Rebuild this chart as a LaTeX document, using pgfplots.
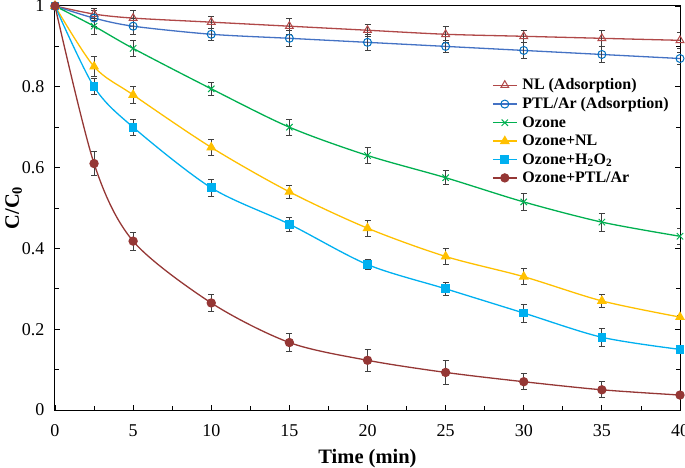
\documentclass[border=0pt]{standalone}
\usepackage{pgfplots}
\pgfplotsset{compat=1.18}
\usepackage{fontspec}
\setmainfont{Liberation Serif}
\definecolor{cNL}{HTML}{B04848}
\definecolor{cPTL}{HTML}{4472C4}
\definecolor{cPTLm}{HTML}{0070C0}
\definecolor{cOz}{HTML}{00B050}
\definecolor{cOzNL}{HTML}{FFC000}
\definecolor{cH2O2}{HTML}{00B0F0}
\definecolor{cOzPTL}{HTML}{953735}
\begin{document}
\begin{tikzpicture}
\begin{axis}[
  scale only axis, width=625pt, height=404pt,
  xmin=0, xmax=40, ymin=0, ymax=1,
  xtick={0,5,...,40}, ytick={0,0.2,0.4,0.6,0.8,1},
  minor x tick num=1, minor y tick num=1,
  tick align=inside, xtick pos=left, ytick pos=both,
  major tick length=5pt, minor tick length=4pt,
  tick style={black, line width=0.8pt},
  axis line style={black, line width=1pt},
  /pgf/number format/assume math mode=true,
  tick label style={font=\fontsize{18}{18}\selectfont},
  xticklabel style={yshift=-11pt},
  yticklabel style={xshift=-7pt},
  xlabel={\textbf{Time (min)}}, ylabel={\textbf{C/C\textsubscript{0}}},
  label style={font=\fontsize{20.5}{20.5}\selectfont},
  xlabel style={yshift=-6pt}, ylabel style={yshift=-7pt},
  legend style={at={(rel axis cs:0.995,0.83)}, anchor=north east, draw=none, fill=none,
    font=\fontsize{16}{18.5}\selectfont\bfseries, row sep=2.3pt, cells={anchor=west},
    nodes={inner xsep=5pt}},
  legend image code/.code={\draw[mark repeat=2,mark phase=2] plot coordinates {(0pt,0pt)(12pt,0pt)(24pt,0pt)};},
  every axis plot/.append style={line width=1.3pt, smooth, tension=0.5},
  error bars/y dir=both, error bars/y explicit,
  error bars/error bar style={black!75, line width=0.8pt},
  error bars/error mark options={rotate=90, mark size=3pt, black!75, line width=0.8pt},
]
\addplot[cNL, mark=triangle, mark size=4.5pt, mark options={fill=white, line width=1pt}] coordinates {
(0,1)+-(0,0) (2.5,0.98)+-(0,0.015) (5,0.97)+-(0,0.02) (10,0.96)+-(0,0.015) (15,0.95)+-(0,0.02)
(20,0.94)+-(0,0.015) (25,0.93)+-(0,0.02) (30,0.925)+-(0,0.015) (35,0.92)+-(0,0.02) (40,0.915)+-(0,0.02)};
\addlegendentry{NL (Adsorption)}
\addplot[cPTL, mark=o, mark size=4pt, mark options={fill=white, draw=cPTLm, line width=1pt}] coordinates {
(0,1)+-(0,0) (2.5,0.97)+-(0,0.02) (5,0.95)+-(0,0.02) (10,0.93)+-(0,0.015) (15,0.92)+-(0,0.02)
(20,0.91)+-(0,0.02) (25,0.90)+-(0,0.015) (30,0.89)+-(0,0.02) (35,0.88)+-(0,0.02) (40,0.87)+-(0,0.015)};
\addlegendentry{PTL/Ar (Adsorption)}
\addplot[cOz, mark=x, mark size=4.5pt, mark options={line width=1pt}] coordinates {
(0,1)+-(0,0) (2.5,0.95)+-(0,0.02) (5,0.895)+-(0,0.02) (10,0.795)+-(0,0.017) (15,0.70)+-(0,0.02)
(20,0.63)+-(0,0.02) (25,0.575)+-(0,0.017) (30,0.515)+-(0,0.02) (35,0.465)+-(0,0.022) (40,0.43)+-(0,0.02)};
\addlegendentry{Ozone}
\addplot[cOzNL, mark=triangle*, mark size=4.5pt] coordinates {
(0,1)+-(0,0) (2.5,0.85)+-(0,0.025) (5,0.78)+-(0,0.022) (10,0.65)+-(0,0.02) (15,0.54)+-(0,0.017)
(20,0.45)+-(0,0.02) (25,0.38)+-(0,0.02) (30,0.33)+-(0,0.02) (35,0.27)+-(0,0.017) (40,0.23)+-(0,0.005)};
\addlegendentry{Ozone+NL}
\addplot[cH2O2, mark=square*, mark size=3.7pt] coordinates {
(0,1)+-(0,0) (2.5,0.80)+-(0,0.02) (5,0.70)+-(0,0.02) (10,0.55)+-(0,0.022) (15,0.46)+-(0,0.017)
(20,0.36)+-(0,0.012) (25,0.30)+-(0,0.017) (30,0.24)+-(0,0.022) (35,0.18)+-(0,0.022) (40,0.15)+-(0,0.005)};
\addlegendentry{Ozone+H\textsubscript{2}O\textsubscript{2}}
\addplot[cOzPTL, mark=*, mark size=4pt] coordinates {
(0,1)+-(0,0) (2.5,0.61)+-(0,0.03) (5,0.418)+-(0,0.022) (10,0.265)+-(0,0.02) (15,0.167)+-(0,0.022)
(20,0.123)+-(0,0.028) (25,0.093)+-(0,0.03) (30,0.07)+-(0,0.02) (35,0.05)+-(0,0.02) (40,0.037)+-(0,0.003)};
\addlegendentry{Ozone+PTL/Ar}
\end{axis}
\pgfresetboundingbox
\path ([shift={(-55pt,-58pt)}]current axis.south west) rectangle ([shift={(5pt,6pt)}]current axis.north east);
\end{tikzpicture}
\end{document}
